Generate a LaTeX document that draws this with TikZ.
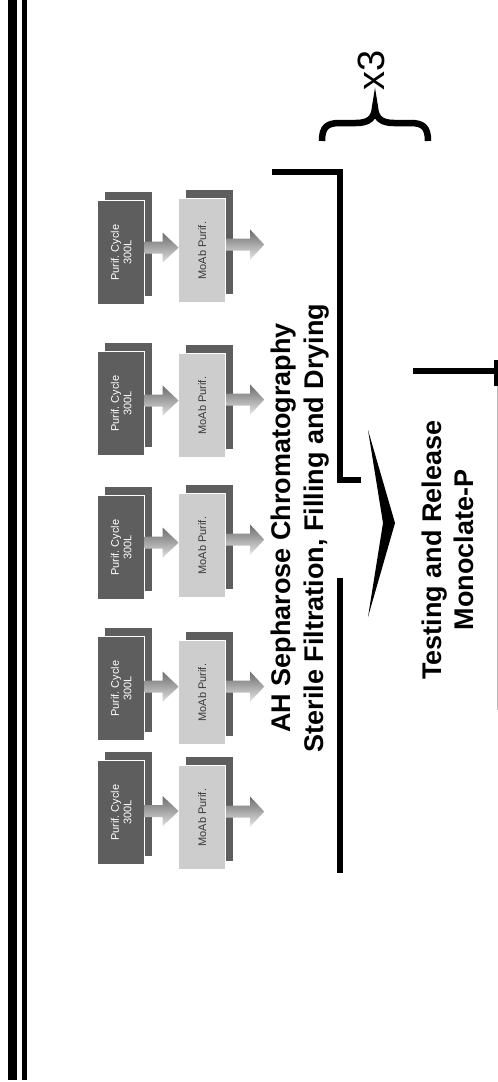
\documentclass[tikz,border=0pt]{standalone}
\usepackage{fontspec}
\setmainfont{Liberation Sans}
\usetikzlibrary{calc}
\definecolor{cardDark}{HTML}{5E5E5E}
\definecolor{cardLight}{HTML}{CDCDCD}
\definecolor{inkGray}{HTML}{3A3A3A}
\begin{document}
\begin{tikzpicture}[x=1pt,y=-1pt,
  card/.style={minimum width=47pt, minimum height=104pt, inner sep=0pt, anchor=north west},
  backcard/.style={card, fill=cardDark},
  darkfront/.style={card, fill=cardDark, draw=white, line width=1.2pt},
  lightfront/.style={card, fill=cardLight, draw=white, line width=1.2pt},
  cardtext/.style={rotate=90, align=center, inner sep=0pt, font=\fontsize{11}{12.5}\selectfont},
  bigtext/.style={rotate=90, align=center, inner sep=0pt, font=\fontsize{27}{33}\selectfont\bfseries},
  heavy/.style={line width=6pt, line join=miter, line cap=butt},
  barrow/.pic={
    \shade[top color=gray!85!black, bottom color=gray!25]
      (-17,-6) -- (1,-6) -- (1,-15) -- (17,0) -- (1,15) -- (1,6) -- (-17,6) -- cycle;
  },
  barrowlong/.pic={
    \shade[top color=gray!85!black, bottom color=gray!20]
      (-19,-6) -- (5,-6) -- (5,-15) -- (19,0) -- (5,15) -- (5,6) -- (-19,6) -- cycle;
  }
]
\useasboundingbox (0,0) rectangle (498,1082);
\fill[white] (0,0) rectangle (498,1082);

% double rule along the left edge
\fill[black] (8,0) rectangle (17,1080);
\fill[black] (22,0) rectangle (27,1080);

% five purification cycles: cycle card, arrow, MoAb card, arrow
\foreach \i/\t/\u in {1/192/190, 2/343/345, 3/487/485, 4/628/632, 5/752/757}{
  \node[backcard] (db\i) at (105,\t) {};
  \node[darkfront] (df\i) at (97,\t+8) {};
  \node[cardtext, text=white] (dt\i) at (df\i.center) {Purif.\ Cycle\\300L};
  \node[backcard] (lb\i) at (186,\u) {};
  \node[lightfront] (lf\i) at (178,\u+8) {};
  \node[cardtext, text=inkGray] (lt\i) at (lf\i.center) {MoAb Purif.};
  \pic at ($(df\i.east)!0.5!(lf\i.west)+(0,-4)$) {barrow};
  \pic at ($(lf\i.east)+(19,-6)$) {barrowlong};
}

% main processing step and its brackets
\node[bigtext] (ah) at (300,528) {AH Sepharose Chromatography\\Sterile Filtration, Filling and Drying};
\coordinate (b1) at (272,172);
\coordinate (b2) at (340,172);
\coordinate (b3) at (340,480);
\coordinate (b4) at (361,480);
\draw[heavy] (b1) -- (b2) -- (b3) -- (b4);
\coordinate (c1) at (340,578);
\coordinate (c2) at (340,873);
\draw[heavy, line width=6.5pt] (c1) -- (c2);

% chevron towards the final step
\fill[black] (368,430) -- (395,523) -- (368,617) -- (383,523) -- cycle;

% final step
\node[bigtext, font=\fontsize{27}{32}\selectfont\bfseries] (tr) at (448,550) {Testing and Release\\Monoclate-P};
\coordinate (r1) at (413,371);
\coordinate (r2) at (498,371);
\draw[heavy] (r1) -- (r2);
\draw[line width=4pt] (496,360) -- (496,386);
\draw[gray!55, line width=0.6pt] (497,386) -- (497,710);

% repeat marker
\draw[line width=6.5pt, line cap=butt]
  (322,141) .. controls (322,127) and (327,123) .. (340,123) -- (356,123)
  .. controls (369,123) and (374,118) .. (375,108)
  .. controls (376,118) and (381,123) .. (394,123) -- (410,123)
  .. controls (423,123) and (428,127) .. (428,141);
\node[rotate=90, inner sep=0pt, font=\fontsize{38}{40}\selectfont] (x3) at (371,70) {x3};
\end{tikzpicture}
\end{document}
